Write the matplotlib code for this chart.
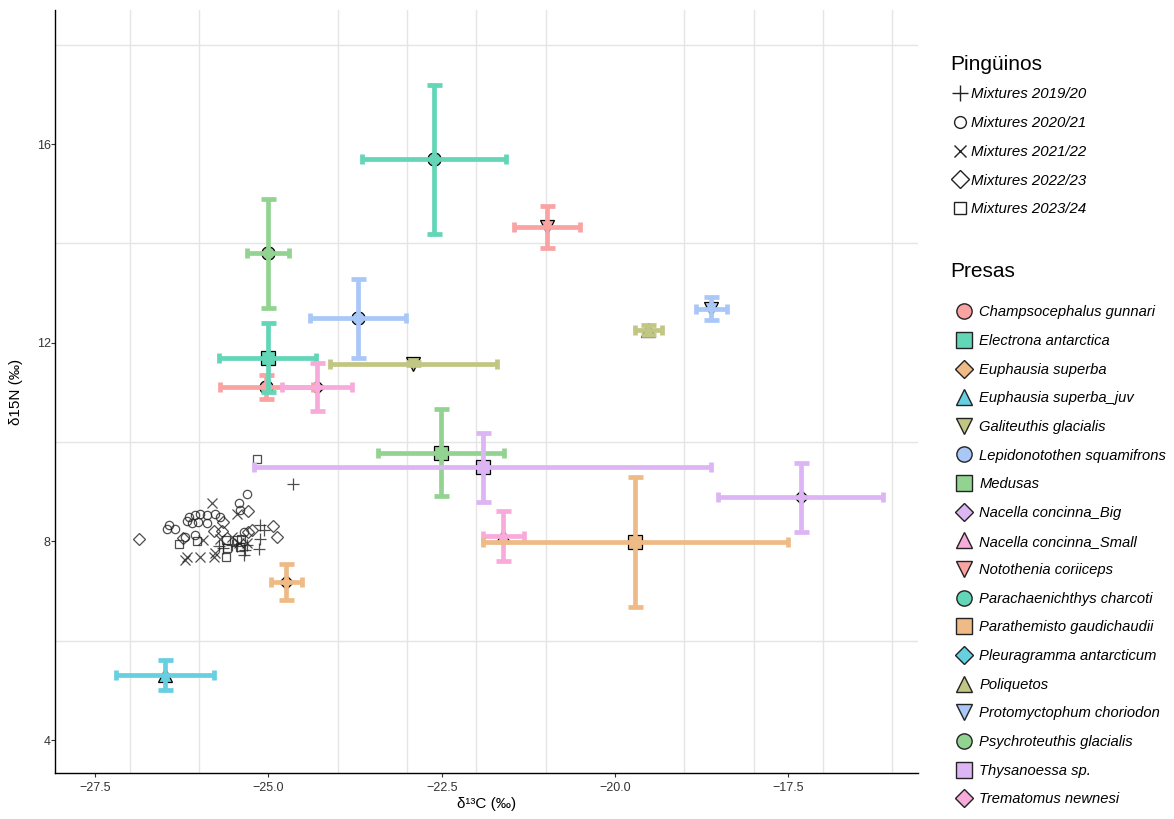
import numpy as np
import matplotlib
matplotlib.use("Agg")
import matplotlib.pyplot as plt
from matplotlib.lines import Line2D

plt.rcParams['font.family'] = ['Liberation Sans', 'DejaVu Sans']

# prey sources: mean and sd of d13C / d15N
prey_names = ['Champsocephalus gunnari', 'Electrona antarctica', 'Euphausia superba',
              'Euphausia superba_juv', 'Galiteuthis glacialis', 'Lepidonotothen squamifrons',
              'Medusas', 'Nacella concinna_Big', 'Nacella concinna_Small',
              'Notothenia coriiceps', 'Parachaenichthys charcoti', 'Parathemisto gaudichaudii',
              'Pleuragramma antarcticum', 'Poliquetos', 'Protomyctophum choriodon',
              'Psychroteuthis glacialis', 'Thysanoessa sp.', 'Trematomus newnesi']
prey_x = [-25.03, -25.01, -24.74, -26.49, -22.91, -23.71, -22.51, -17.32, -21.61,
          -20.98, -22.61, -19.71, np.nan, -19.52, -18.61, -25.01, -21.91, -24.30]
prey_sx = [0.67, 0.70, 0.23, 0.71, 1.20, 0.69, 0.91, 1.19, 0.30,
           0.48, 1.04, 2.20, np.nan, 0.20, 0.22, 0.30, 3.30, 0.50]
prey_y = [11.11, 11.70, 7.18, 5.31, 11.58, 12.49, 9.79, 8.89, 8.11,
          14.33, 15.70, 7.99, np.nan, 12.26, 12.69, 13.80, 9.49, 11.11]
prey_sy = [0.24, 0.70, 0.36, 0.30, 0.03, 0.79, 0.88, 0.70, 0.50,
           0.42, 1.50, 1.30, np.nan, 0.10, 0.24, 1.10, 0.70, 0.49]

palette = ['#F9A3A3', '#63D6B7', '#EEBB86', '#66CFE0', '#C2C683',
           '#A9C7F7', '#92D392', '#DDB5F4', '#F8ABDB']
shapes = ['o', 's', 'D', '^', 'v']

# penguin mixtures (one list pair per season)
mix_labels = ['Mixtures 2019/20', 'Mixtures 2020/21', 'Mixtures 2021/22',
              'Mixtures 2022/23', 'Mixtures 2023/24']
mix_2019_x = [-24.64, -25.12, -25.07, -25.12, -25.14, -25.34, -25.36, -25.72, -25.65,
              -25.31, -25.46, -25.53]
mix_2019_y = [9.15, 8.33, 8.23, 8.06, 7.84, 7.83, 7.73, 7.91, 7.86, 7.93, 7.91, 7.93]
mix_2020_x = [-25.31, -25.43, -25.41, -26.44, -26.47, -26.35, -26.15, -26.06, -25.99,
              -25.89, -25.77, -26.11, -26.01, -25.88, -26.17, -26.06, -26.20, -25.70, -25.36]
mix_2020_y = [8.95, 8.77, 8.63, 8.33, 8.25, 8.26, 8.50, 8.54, 8.56,
              8.53, 8.55, 8.38, 8.40, 8.38, 8.42, 8.13, 8.10, 8.50, 8.19]
mix_2021_x = [-25.81, -25.46, -26.18, -25.99, -25.79, -25.70, -25.53, -25.43, -26.20,
              -25.77, -25.94, -25.31]
mix_2021_y = [8.77, 8.56, 7.69, 7.68, 7.69, 8.06, 8.09, 7.96, 7.62, 7.76, 8.03, 7.96]
mix_2022_x = [-26.87, -25.65, -25.67, -25.79, -25.29, -25.29, -24.93, -24.87, -25.24, -26.23]
mix_2022_y = [8.05, 8.40, 8.22, 8.22, 8.61, 8.20, 8.31, 8.09, 8.23, 8.08]
mix_2023_x = [-25.16, -26.29, -26.03, -25.61, -25.46, -25.39, -25.61, -25.60, -25.41]
mix_2023_y = [9.66, 7.95, 8.00, 8.03, 8.04, 8.06, 7.68, 7.86, 7.89]

mix_x = [mix_2019_x, mix_2020_x, mix_2021_x, mix_2022_x, mix_2023_x]
mix_y = [mix_2019_y, mix_2020_y, mix_2021_y, mix_2022_y, mix_2023_y]
mix_markers = ['+', 'o', 'x', 'D', 's']
mix_sizes = [8.5, 6.0, 6.7, 6.0, 6.2]

fig = plt.figure(figsize=(11.74, 8.19), dpi=100)
ax = fig.add_axes([0.0468, 0.0562, 0.7352, 0.9316])

# penguins first, prey drawn on top
for xs, ys, m, ms in zip(mix_x, mix_y, mix_markers, mix_sizes):
    ax.plot(xs, ys, linestyle='none', marker=m, markersize=ms, markerfacecolor='none',
            markeredgecolor='#222222', markeredgewidth=0.9, alpha=0.8, zorder=3)

for i, name in enumerate(prey_names):
    col = palette[i % 9]
    ax.plot(prey_x[i], prey_y[i], linestyle='none', marker=shapes[i % 5],
            markersize=9.5 if shapes[i % 5] != 'D' else 7.5,
            markerfacecolor=col, markeredgecolor='black', markeredgewidth=0.9, zorder=4)
    ax.errorbar(prey_x[i], prey_y[i], xerr=prey_sx[i], fmt='none', ecolor=col,
                elinewidth=3.4, capsize=3.6, capthick=3.4, zorder=5)
    ax.errorbar(prey_x[i], prey_y[i], yerr=prey_sy[i], fmt='none', ecolor=col,
                elinewidth=3.4, capsize=5.4, capthick=3.4, zorder=5)

ax.set_xlim(-28.08, -15.63)
ax.set_ylim(3.34, 18.70)
ax.set_xticks([-27.5, -25.0, -22.5, -20.0, -17.5])
ax.set_xticklabels(['\u221227.5', '\u221225.0', '\u221222.5', '\u221220.0', '\u221217.5'])
ax.set_xticks(np.arange(-27, -15), minor=True)
ax.set_yticks([4, 8, 12, 16])
ax.set_yticks(np.arange(4, 19, 2), minor=True)
ax.grid(False)
ax.grid(True, which='minor', color='#E5E5E5', linewidth=1.0)
ax.set_axisbelow(True)
ax.tick_params(which='major', length=2.8, width=0.8, color='#333333',
               labelsize=9, labelcolor='#333333')
ax.tick_params(axis='x', which='major', pad=3.8)
ax.tick_params(axis='y', which='major', pad=0.3)
ax.tick_params(which='minor', length=0)
for s in ['top', 'right']:
    ax.spines[s].set_visible(False)
for s in ['left', 'bottom']:
    ax.spines[s].set_linewidth(1.0)
    ax.spines[s].set_color('black')

ax.set_xlabel('\u03b4\u00b9\u00b3C (\u2030)', fontsize=11, labelpad=2.3)
ax.set_ylabel('\u03b415N (\u2030)', fontsize=11, labelpad=9.5)

# legends (titles as separate text so the gaps can match)
fig.text(950 / 1174, 1 - 64 / 819, 'Pingüinos', fontsize=15, va='center', ha='left')
fig.text(950 / 1174, 1 - 272 / 819, 'Presas', fontsize=15, va='center', ha='left')

h1 = [Line2D([], [], linestyle='none', marker=m, markersize=s, markerfacecolor='none',
             markeredgecolor='#222222', markeredgewidth=1.0)
      for m, s in zip(mix_markers, [11, 8.5, 9, 8.7, 8])]
leg1 = fig.legend(h1, mix_labels, loc='upper left',
                  bbox_to_anchor=(0.805, 1 - 80 / 819), frameon=False, borderpad=0,
                  handlelength=1.0, handletextpad=0.2, labelspacing=0.98,
                  prop={'style': 'italic', 'size': 10.8})

h2 = [Line2D([], [], linestyle='none', marker=shapes[i % 5],
             markersize=11 if shapes[i % 5] != 'D' else 8.8,
             markerfacecolor=palette[i % 9], markeredgecolor='#222222', markeredgewidth=1.0)
      for i in range(len(prey_names))]
leg2 = fig.legend(h2, prey_names, loc='upper left',
                  bbox_to_anchor=(0.8065, 1 - 298 / 819), frameon=False, borderpad=0,
                  handlelength=1.4, handletextpad=0.3, labelspacing=0.995,
                  prop={'style': 'italic', 'size': 10.6})

fig.savefig('out.png', dpi=100)
